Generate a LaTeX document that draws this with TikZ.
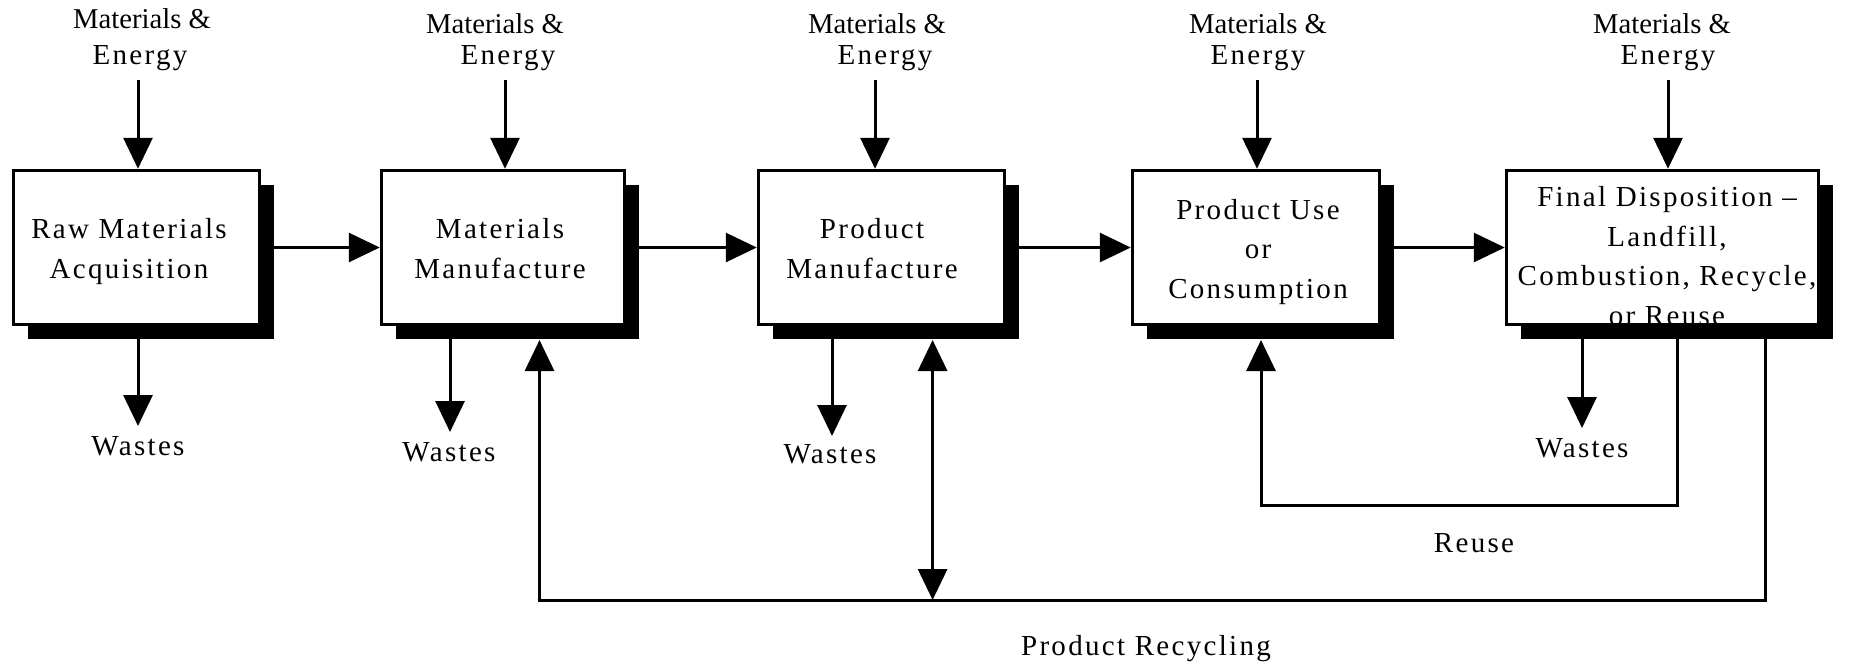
\documentclass[tikz,border=0pt]{standalone}
\usepackage{fontspec}
\setmainfont{Liberation Serif}
\newfontfamily\lsfont[LetterSpace=8]{Liberation Serif}
\usetikzlibrary{arrows.meta,shadows}
\begin{document}
\begin{tikzpicture}[x=1pt,y=-1pt,
  >={Triangle[length=31pt,width=29pt]},
  conn/.style={line width=3pt},
  box/.style={draw,line width=3.5pt,fill=white,inner sep=0pt,minimum height=154pt,
    drop shadow={shadow xshift=14pt,shadow yshift=-14pt,fill=black,opacity=1}},
  txt/.style={inner sep=0pt,align=center,anchor=base,font=\lsfont\fontsize{29}{39.5}\selectfont},
  mat/.style={inner sep=0pt,anchor=base,font=\fontsize{28.7}{33}\selectfont}]
\useasboundingbox (0,0) rectangle (1851,665);
% boxes
\node[box,minimum width=246pt] (b1) at (136.5,247.5) {};
\node[box,minimum width=243pt] (b2) at (503,247.5) {};
\node[box,minimum width=246pt] (b3) at (881.5,247.5) {};
\node[box,minimum width=247pt] (b4) at (1256,247.5) {};
\node[box,minimum width=312pt] (b5) at (1662.5,247.5) {};
% box texts (anchor = baseline of last line)
\node[txt] (t1) at (129,278) {Raw Materials\\Acquisition};
\node[txt] (t2) at (500,278) {Materials\\Manufacture};
\node[txt] (t3) at (872,278) {Product\\Manufacture};
\node[txt] (t4) at (1258,298) {Product Use\\or\\Consumption};
\node[txt] (t5) at (1667,325) {Final Disposition –\\Landfill,\\Combustion, Recycle,\\or Reuse};
% inputs
\node[mat] (m1) at (142,28) {Materials \&};
\node[txt] (e1) at (140,64) {Energy};
\node[mat] (m2) at (495,33) {Materials \&};
\node[txt] (e2) at (508,64) {Energy};
\node[mat] (m3) at (877,33) {Materials \&};
\node[txt] (e3) at (885,64) {Energy};
\node[mat] (m4) at (1258,33) {Materials \&};
\node[txt] (e4) at (1258,64) {Energy};
\node[mat] (m5) at (1662,33) {Materials \&};
\node[txt] (e5) at (1668,64) {Energy};
\coordinate (i1) at (138,80);
\coordinate (i2) at (505,80);
\coordinate (i3) at (875,80);
\coordinate (i4) at (1257,80);
\coordinate (i5) at (1668,80);
\foreach \k in {1,...,5}{\draw[conn,->] (i\k) -- (i\k |- b\k.north);}
% main flow
\draw[conn,->] (b1.east) -- (b2.west);
\draw[conn,->] (b2.east) -- (b3.west);
\draw[conn,->] (b3.east) -- (b4.west);
\draw[conn,->] (b4.east) -- (b5.west);
% wastes
\coordinate (w1) at (138,426);
\coordinate (w2) at (450,432);
\coordinate (w3) at (832,436);
\coordinate (w5) at (1582,428);
\draw[conn,->] (w1 |- b1.south) -- (w1);
\draw[conn,->] (w2 |- b2.south) -- (w2);
\draw[conn,->] (w3 |- b3.south) -- (w3);
\draw[conn,->] (w5 |- b5.south) -- (w5);
\node[txt] (ws1) at (138,455) {Wastes};
\node[txt] (ws2) at (449,461) {Wastes};
\node[txt] (ws3) at (830,463) {Wastes};
\node[txt] (ws5) at (1582,457) {Wastes};
% feedback loops
\coordinate (sb) at (0,340);
\coordinate (ru) at (1677.5,505);
\coordinate (rl) at (1261,505);
\draw[conn,->] (ru |- b5.south) -- (ru) -- (rl) -- (rl |- sb);
\coordinate (rc) at (1765,600);
\coordinate (rcl) at (539.5,600);
\draw[conn,->] (rc |- b5.south) -- (rc) -- (rcl) -- (rcl |- sb);
\coordinate (dd) at (932.6,600);
\draw[conn,<->] (dd |- sb) -- (dd);
\node[txt] (reuse) at (1474,552) {Reuse};
\node[txt] (prc) at (1146,655) {Product Recycling};
\end{tikzpicture}
\end{document}
